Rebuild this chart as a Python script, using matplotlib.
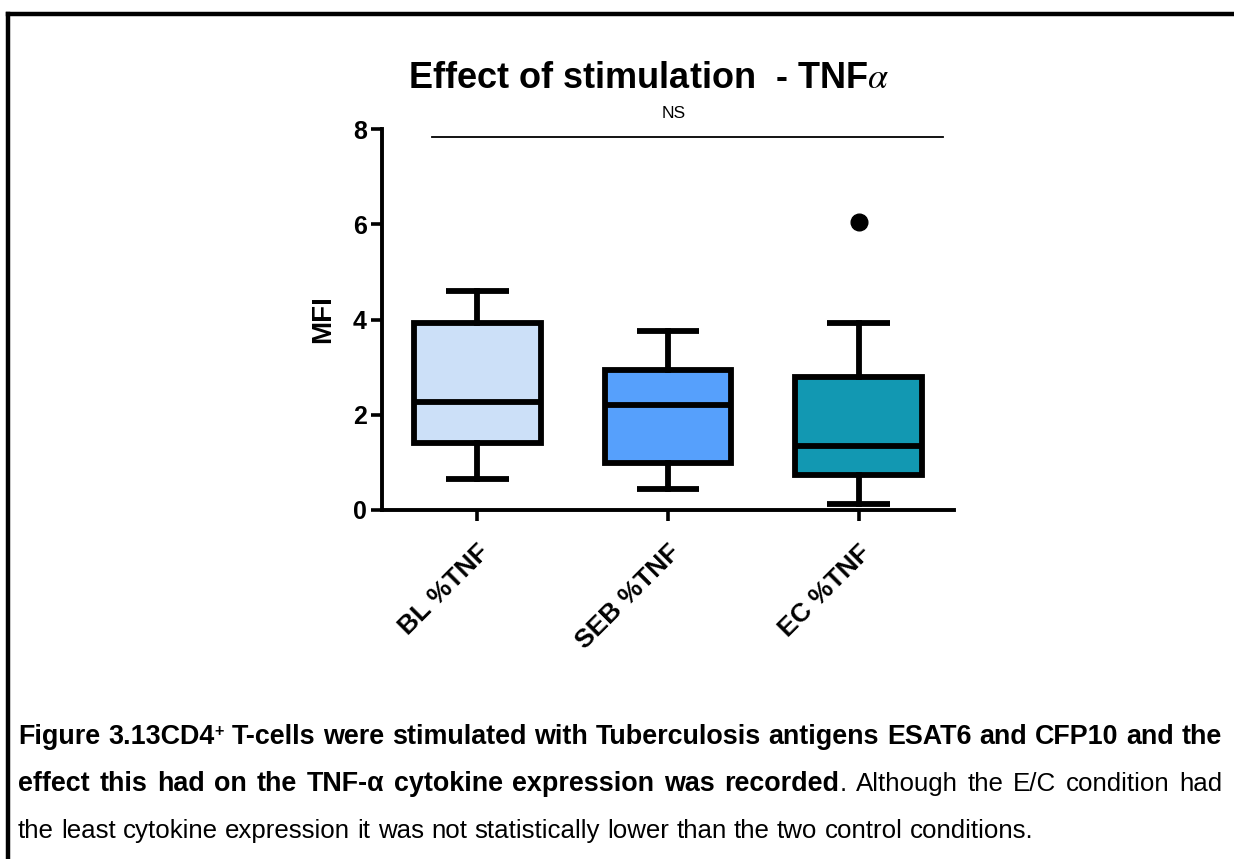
import matplotlib
matplotlib.use("Agg")
import matplotlib.pyplot as plt
from matplotlib.lines import Line2D
from matplotlib.transforms import ScaledTranslation

plt.rcParams['font.family'] = ['Liberation Sans', 'DejaVu Sans']
plt.rcParams['mathtext.fontset'] = 'stix'

# five-number summaries per condition (MFI)
groups = ['BL %TNF', 'SEB %TNF', 'EC %TNF']
whisker_low = [0.66, 0.44, 0.12]
q1 = [1.40, 0.99, 0.73]
median = [2.26, 2.20, 1.34]
q3 = [3.93, 2.93, 2.79]
whisker_high = [4.59, 3.75, 3.93]
outliers = [[], [], [6.05]]
box_colors = ['#CCE0F8', '#56A0FC', '#1298B2']

fig = plt.figure(figsize=(12.34, 8.59), dpi=100)
ax = fig.add_axes([0.3096, 0.4063, 0.4635, 0.4435])

stats = []
for i, name in enumerate(groups):
    stats.append(dict(label=name, whislo=whisker_low[i], q1=q1[i], med=median[i],
                      q3=q3[i], whishi=whisker_high[i], fliers=outliers[i]))

lw = 4.2
bp = ax.bxp(stats, positions=[1, 2, 3], widths=0.665, capwidths=0.33,
            patch_artist=True, showfliers=True,
            boxprops=dict(linewidth=lw, edgecolor='black'),
            medianprops=dict(linewidth=lw, color='black', solid_capstyle='butt'),
            whiskerprops=dict(linewidth=lw, color='black'),
            capprops=dict(linewidth=lw, color='black', solid_capstyle='butt'),
            flierprops=dict(marker='o', markersize=12, markerfacecolor='black',
                            markeredgecolor='black'))
for patch, c in zip(bp['boxes'], box_colors):
    patch.set_facecolor(c)
    patch.set_joinstyle('miter')

ax.set_xlim(0.5, 3.5)
ax.set_ylim(0, 8)
ax.set_yticks([0, 2, 4, 6, 8])
ax.set_xticks([1, 2, 3])
ax.set_xticklabels(groups, rotation=45, ha='right', rotation_mode='anchor',
                   fontsize=19, fontweight='bold')
shift = ScaledTranslation(-6 / 100, -2 / 100, fig.dpi_scale_trans)
for lab in ax.get_xticklabels():
    lab.set_transform(lab.get_transform() + shift)
for lab in ax.get_yticklabels():
    lab.set_fontweight('bold')
    lab.set_fontsize(18)
ax.tick_params(axis='both', width=2.6, length=8, direction='out', pad=3)
ax.tick_params(axis='x', pad=14)
for side in ['top', 'right']:
    ax.spines[side].set_visible(False)
for side in ['left', 'bottom']:
    ax.spines[side].set_linewidth(2.8)
ax.set_ylabel('MFI', fontsize=20, fontweight='bold', labelpad=12)

# significance bar across all three groups
ax.plot([0.76, 3.44], [7.84, 7.84], color='black', lw=1.3, clip_on=False)
ax.text(2.03, 8.17, 'NS', ha='center', va='bottom', fontsize=12.5)

fig.text(0.526, 0.909, r'Effect of stimulation  - TNF$\alpha$', ha='center', va='center',
         fontsize=26, fontweight='bold')

# frame lines
fig.add_artist(Line2D([7.5 / 1234, 7.5 / 1234], [0, 1 - 13.5 / 859], color='black', lw=3.2,
                      transform=fig.transFigure, solid_capstyle='projecting'))
fig.add_artist(Line2D([7.5 / 1234, 1], [1 - 13.5 / 859, 1 - 13.5 / 859], color='black', lw=3.2,
                      transform=fig.transFigure, solid_capstyle='projecting'))

# caption, laid out word by word so the first two lines are justified
cap_family = ['Liberation Sans', 'DejaVu Sans']
B, N = 'bold', 'normal'
caption_lines = [
    [('Figure', B), ('3.13CD4', B), ('+', 'sup'), ('T-cells', B), ('were', B), ('stimulated', B),
     ('with', B), ('Tuberculosis', B), ('antigens', B), ('ESAT6', B), ('and', B), ('CFP10', B),
     ('and', B), ('the', B)],
    [('effect', B), ('this', B), ('had', B), ('on', B), ('the', B), ('TNF-α', B), ('cytokine', B),
     ('expression', B), ('was', B), ('recorded', B), ('.', 'join'), ('Although', N), ('the', N),
     ('E/C', N), ('condition', N), ('had', N)],
    [('the', N), ('least', N), ('cytokine', N), ('expression', N), ('it', N), ('was', N), ('not', N),
     ('statistically', N), ('lower', N), ('than', N), ('the', N), ('two', N), ('control', N),
     ('conditions.', N)],
]
line_y = [737, 784, 831]
x0, x1 = 18, 1222
last_line_end = 1035

fig.canvas.draw()
renderer = fig.canvas.get_renderer()
sizes = {B: 15.0, N: 15.0}


def make_word(word, kind):
    if kind == 'sup':
        return fig.text(0, 0, word, fontsize=sizes[B] * 0.6, fontweight='bold', family=cap_family,
                        va='baseline', ha='left')
    weight = N if kind in (N, 'join') else B
    return fig.text(0, 0, word, fontsize=sizes[weight], fontweight=weight, family=cap_family,
                    va='baseline', ha='left')


def natural_width(words):
    arts = [make_word(w, k) for w, k in words]
    total = sum(a.get_window_extent(renderer).width for a in arts)
    for a in arts:
        a.remove()
    weight = words[0][1]
    probe = [make_word('a a', weight), make_word('a', weight)]
    sp = probe[0].get_window_extent(renderer).width - 2 * probe[1].get_window_extent(renderer).width
    for a in probe:
        a.remove()
    n_gaps = sum(1 for w, k in words[1:] if k not in ('sup', 'join'))
    return total + n_gaps * sp, sp


# bold size fills the first line, regular size matches the last line's length
sizes[B] *= (x1 - x0) / natural_width(caption_lines[0])[0]
sizes[N] *= (last_line_end - x0) / natural_width(caption_lines[2])[0]
_, space = natural_width(caption_lines[2])

for li, words in enumerate(caption_lines):
    arts = [make_word(w, k) for w, k in words]
    widths = [a.get_window_extent(renderer).width for a in arts]
    glued = [k in ('sup', 'join') for _, k in words]
    n_gaps = sum(1 for i in range(1, len(words)) if not glued[i])
    gap = (x1 - x0 - sum(widths)) / n_gaps if li < 2 else space
    x = x0
    base = 859 - line_y[li] - 7
    for i, (a, w) in enumerate(zip(arts, widths)):
        if i > 0 and not glued[i]:
            x += gap
        dy = 8 if words[i][1] == 'sup' else 0
        a.set_position((x / 1234, (base + dy) / 859))
        x += w

fig.savefig('out.png', dpi=100, facecolor='white')
